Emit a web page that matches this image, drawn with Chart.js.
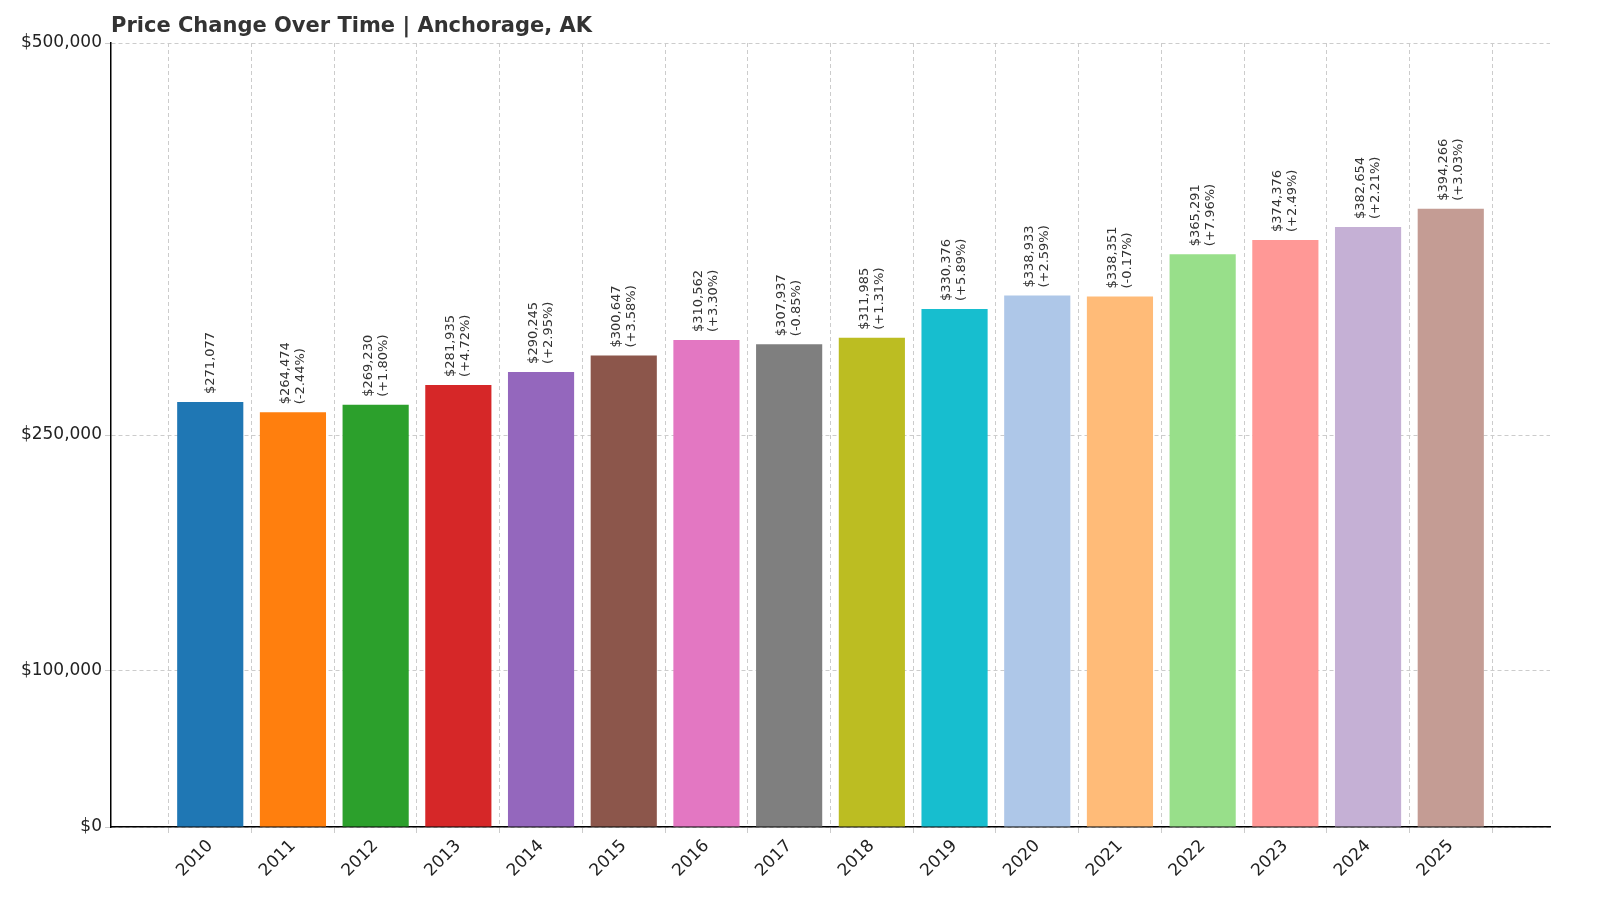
<!DOCTYPE html>
<html><head><meta charset="utf-8">
<script src="https://cdn.jsdelivr.net/npm/chart.js@4/dist/chart.umd.min.js"></script>
<style>html,body{margin:0;padding:0;background:#fff}#w{width:1600px;height:914px}</style>
</head><body><div id="w"><canvas id="c"></canvas></div>
<script>
const years = ["2010","2011","2012","2013","2014","2015","2016","2017","2018","2019","2020","2021","2022","2023","2024","2025"];
const prices = [271077,264474,269230,281935,290245,300647,310562,307937,311985,330376,338933,338351,365291,374376,382654,394266];
const changes = ["","-2.44%","+1.80%","+4.72%","+2.95%","+3.58%","+3.30%","-0.85%","+1.31%","+5.89%","+2.59%","-0.17%","+7.96%","+2.49%","+2.21%","+3.03%"];
const yTicks = [0,100000,250000,500000];
const colors = ["#1f77b4","#ff7f0e","#2ca02c","#d62728","#9467bd","#8c564b","#e377c2","#7f7f7f","#bcbd22","#17becf","#aec7e8","#ffbb78","#98df8a","#ff9896","#c5b0d5","#c49c94"];
const F = "'DejaVu Sans', sans-serif";
const fmt = v => "$" + v.toLocaleString("en-US");
const labelPlugin = {
  id: "lbl",
  afterDatasetsDraw(chart) {
    const ctx = chart.ctx, meta = chart.getDatasetMeta(0);
    ctx.save();
    ctx.font = "13px " + F; ctx.fillStyle = "#333";
    meta.data.forEach((b, i) => {
      const lines = [fmt(prices[i])];
      if (changes[i]) lines.push("(" + changes[i] + ")");
      ctx.save();
      ctx.translate(b.x, b.y - 8);
      ctx.rotate(-Math.PI / 2);
      ctx.textAlign = "left"; ctx.textBaseline = "middle";
      const lh = 15, off = -(lines.length - 1) * lh / 2;
      lines.forEach((t, k) => ctx.fillText(t, 0, off + k * lh));
      ctx.restore();
    });
    ctx.font = "bold 21px " + F; ctx.fillStyle = "#333"; ctx.textAlign = "left"; ctx.textBaseline = "middle";
    ctx.fillText("Price Change Over Time | Anchorage, AK", chart.chartArea.left, 27);
    ctx.restore();
  }
};
new Chart(document.getElementById("c"), {
  type: "bar",
  data: { datasets: [{ data: prices.map((p, i) => ({ x: i, y: p })), backgroundColor: colors, categoryPercentage: 0.8, barPercentage: 1 }] },
  options: {
    responsive: true, maintainAspectRatio: false, animation: false,
    layout: { padding: { top: 43, right: 50, left: 0, bottom: 0 } },
    plugins: { legend: { display: false }, tooltip: { enabled: false } },
    scales: {
      x: {
        type: "linear", min: -1.2, max: 16.2, offset: false,
        afterBuildTicks(s) { s.ticks = years.map((y, i) => ({ value: i })); },
        grid: { color: "#ccc", tickLength: 6 },
        border: { color: "#000", width: 1.5, dash: [4, 3] },
        ticks: { color: "#222", font: { family: F, size: 17 }, maxRotation: 45, minRotation: 45, autoSkip: false, callback: v => years[v] },
        afterFit(s) { s.height = 87; }
      },
      y: {
        min: 0, max: 500000,
        afterBuildTicks(s) { s.ticks = yTicks.map(v => ({ value: v })); },
        grid: { color: "#ccc", tickLength: 6 },
        border: { color: "#000", width: 1.5, dash: [4, 3] },
        ticks: { color: "#222", font: { family: F, size: 17 }, callback: v => fmt(v) },
        afterFit(s) { s.width = 111; }
      }
    }
  },
  plugins: [labelPlugin]
});
</script></body></html>
